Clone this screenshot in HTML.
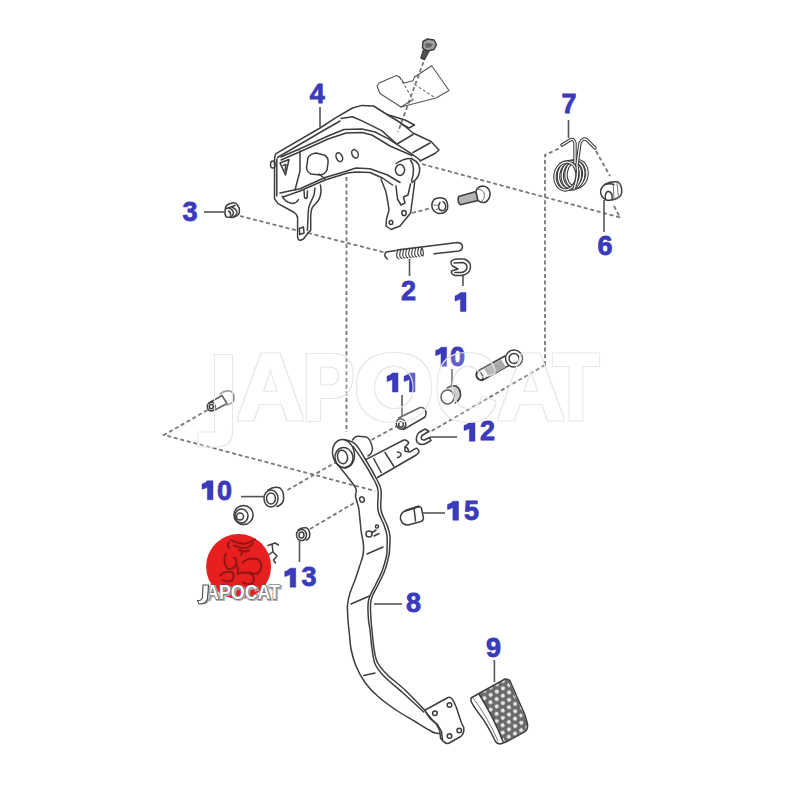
<!DOCTYPE html>
<html><head><meta charset="utf-8">
<style>
html,body{margin:0;padding:0;background:#fff;width:800px;height:800px;overflow:hidden}
svg{display:block}
.l{fill:none;stroke:#3d3d3d;stroke-width:1.5;stroke-linejoin:round;stroke-linecap:round}
.lf{fill:#fff;stroke:#3d3d3d;stroke-width:1.5;stroke-linejoin:round;stroke-linecap:round}
.t{fill:none;stroke:#666;stroke-width:0.9}
.d{fill:none;stroke:#777;stroke-width:1.8;stroke-dasharray:4 2.7}
.n{font-family:"Liberation Sans",sans-serif;font-weight:bold;font-size:27px;fill:#3a3abb;stroke:#3a3abb;stroke-width:0.8}
.ld{stroke:#555;stroke-width:1.6;fill:none}
.tw{fill:none;stroke:#3a3a3a;stroke-width:3.4;stroke-linecap:round;stroke-linejoin:round}
.tw2{fill:none;stroke:#fff;stroke-width:1.3;stroke-linecap:round;stroke-linejoin:round}
</style></head><body>
<svg width="800" height="800" viewBox="0 0 800 800">
<rect width="800" height="800" fill="#fff"/>
<!-- dashed -->
<g class="d">
<path d="M423.5 62 L398 132"/>
<path d="M240 216 L297 230.5"/>
<path d="M308 233 L385 252.5"/>
<path d="M346.5 177 L346.5 432"/>
<path d="M422 164 L620 217.5"/>
<path d="M412 213 L431 208"/>
<path d="M545 365 L545 155 L560 148"/>
<path d="M596 151 L610 176"/>
<path d="M614 206 L620 217.5"/>
<path d="M207.5 410 L164 435 L375 491"/>
<path d="M545 365 L430 432"/>
<path d="M371.5 440 L397 426"/>
<path d="M287.5 490 L340 460"/>
<path d="M310 529 L357.5 501"/>
</g>
<g class="d" style="stroke-width:1.1;stroke-dasharray:3 2">
<path d="M399.5 77 L413 99.5"/>
<path d="M414.5 84.5 L435.5 98"/>
</g>

<!-- bracket -->
<g class="l">
<!-- top flap pieces -->
<g style="stroke-width:1.1;stroke:#555">
<path d="M399.5 77 L396.5 75.5 L379 83 L377 86 L380 93.5 L401 107 L413 99.5"/>
<path d="M404 83 L413 80.7 L414.5 77 L431.7 65.7 L449 90.5 L436 98 L401 107"/>
<path d="M404 83 L399.5 77"/>
</g>
<!-- bolt top -->
<path d="M423 41.5 L427.5 39 L434 40 L436.5 44.5 L434 49.5 L427 51 L422.5 48 Z" fill="#a0a0a0"/>
<path d="M425 43.5 Q429 42 433 44.5 Q431 48 426 48 Z" fill="#666" stroke="none"/>
<path d="M423.5 50 L421 58 L424.5 59.5 L429 51 Z" fill="#555"/>
<!-- bracket top surface -->
<path d="M274.6 157 L276 153.6 L320 128 L336 117.6 L352.5 108 L362 105.4 L373.6 106 L387 114.5 L401 123 L413 133 L431 141.5 L439 150 L435 153.5 L420 161"/>
<path d="M277.5 157.5 L320 132.5 L340 121"/>
<path d="M387 114.5 L405 120 L414.5 125 L409 128 L400.5 123.5"/>
<path d="M397 144 L413 134.5"/>
<path d="M413 152.5 L430 143"/>
<path d="M281 157 L300.6 148.5 L328 136 L344 129.5 L362 129 L375 132 L388 138.7 L411 153.4 L420 160"/>
<path d="M341 118.4 L352.5 116.8 L362 120.9 L381.7 130.6 L396.4 143.6"/>
<path d="M281 160 L300.6 151.5 L328 139 L346 133 L362 132.5 L372 135 L390 146 L412 155.5"/>
<path d="M300 151 L300 171 L295 190"/>
<!-- left flange -->
<path d="M274.6 157 L274.5 198.7 L278 203.6 L294.4 212.5 Q297.6 215 297.6 218 L297.6 237 Q298 240.5 300.5 240.2 L303.5 239 L308.2 232.8"/>
<path d="M276.8 159 L276.8 196"/>
<path d="M308.2 232.8 L310.7 230.4 L310.7 216.6 Q311 210 312.3 207.6 L318 201 Q322.5 194 320.4 184.9"/>
<path d="M307.4 230.4 L308.2 212.5 Q308.5 207 309.8 204.4 L314 195 L315 188"/>
<path d="M299.3 228.5 L303.5 227 L304 233 L299.8 234.5 Z"/>
<path d="M304 190.6 L304.5 197.5 Q306 199.5 307.2 197.5 L307.4 191"/>
<!-- lower fold of side face -->
<path d="M280 193 L300 188.75 L325 177.5 L343.75 172 L356 168 L370 168.75 L387.5 175 L400 182.5"/>
<path d="M283 197 L300 191 L325 180 L347.5 173 L356 172 L370 172.5 L382.5 178 L392.5 185"/>
<path d="M282.2 196.3 Q285 202 292.8 203.6 Q296.5 203 298.5 199.5"/>

<path d="M319 174 L325 179"/>
<path d="M308 157.5 Q310 154 316 153 L324 155 Q329 157.5 328 163 L327 170 Q325 174.5 320 175 L311 174 Q307 172 306.5 168 Z"/>
<ellipse cx="339.3" cy="157.2" rx="3" ry="4.6" transform="rotate(-25 339.3 157.2)"/>
<ellipse cx="355" cy="153.8" rx="3" ry="4.4" transform="rotate(-25 355 153.8)"/>
<path d="M280 163 L289 159.5 L285.5 175 Z"/>
<path d="M283 165.5 L286 164.5 L285 171"/>
<ellipse cx="272.8" cy="164.5" rx="2.3" ry="3.6"/>
<!-- right end boss -->
<ellipse cx="400" cy="170" rx="4.6" ry="5.4"/>
<path d="M396 163.5 Q404 158 412 158.5"/>
<path d="M412 159 Q421 163 419.5 172 Q418 179 412 182.5"/>
<path d="M410.5 160 Q416 168 411.5 181"/>
<!-- right leg -->
<path d="M381 179 L386 192 L388 203 L389 210 L386.5 219 L386 226 L391 229.5 L400 226 L410.6 213 L413 195 L414.7 182"/>
<path d="M396 186 L397.5 199 L401 205 L405 203 L403.5 197 L408 195 L410.5 184"/>
<ellipse cx="391" cy="222.6" rx="1.8" ry="2"/>
<ellipse cx="404" cy="213" rx="2.2" ry="2.6"/>
</g>

<!-- small -->
<g class="l">
<!-- nut & bolt near bracket -->
<path d="M434 199.5 Q439 196.5 445 199 Q448.5 203 447.5 209 Q444.5 214 438.5 213.5 Q432 211.5 431.8 205.5 Q432 201.5 434 199.5 Z"/>
<path d="M443 201.5 Q447 204.5 445 209.5 Q441.5 212 439 209 Q438 205 440 202.5"/>
<path d="M434 205 L438.5 205.5 M436 209.5 L439.5 208.5" class="t"/>
<path d="M458.5 196.5 L476 191.5 L478 200.5 L460.5 204.8 Q457 202 458.5 196.5 Z" fill="#b4b4b4"/>
<path d="M476 191.5 Q477 187 482 186 Q488.5 186 490 192.5 Q490.5 200 484.5 202.5 Q479 203 477.5 199 Z" fill="#fff"/>
<path d="M478 189.5 Q483 189 484.5 194 Q485 199 481.5 202" class="t"/>
<!-- part 3 clip -->
<path d="M225.5 207.5 Q226 205 229 204 L233 202.8 Q235.5 202.5 237 204.5 L239.2 208 Q240 212 238.5 214.5 Q236 217 232.5 217.5 L226.5 217 Q224.5 215 225 211 Z"/>
<path d="M226.5 208.5 L235 205.5"/>
<path d="M229 208 Q233 209.5 233.5 213 Q233 216 230.5 216.5"/>
<path d="M232.5 207.5 Q236.5 209 237 212.5 Q236.5 215.5 233.5 216.5"/>
<path d="M228.5 211 Q231 212 230.5 215"/>
<!-- part 6 bushing -->
<path d="M600.7 193.4 Q600 187.5 606 183.7 Q611 181.2 618.2 182 Q622 185 621.7 192.5 Q621.5 197 614.2 199.5 L608.1 200.4 Q603 199.5 600.7 193.4 Z"/>
<path d="M605.5 199.5 Q604.5 192.5 608 191.2 Q611 191.5 612 195 L612.3 199.8"/>
<path d="M613.2 184.2 L614 199 M617 183.2 L618.5 197.5" class="t"/>
<path d="M605 184.5 Q610 183 614 184.5"/>
<!-- part 2 spring -->
<path d="M387.5 259 Q383 256 386 252 L396 250.6"/>
<path d="M397.5 250 L457.5 242.5 Q462.5 243 462.5 247 Q462 250.5 459 251 L434 253.75"/>
<g style="stroke-width:1.1">
<path d="M398 249.5 Q395 258 399 259"/><path d="M401 249 Q398 257.5 402 258.5"/><path d="M404 248.7 Q401 257.5 405 258.2"/><path d="M407 248.3 Q404 257 408 258"/><path d="M410 248 Q407 256.5 411 257.6"/><path d="M413 247.6 Q410 256 414 257.2"/><path d="M416 247.3 Q413 256 417 257"/><path d="M419 247 Q416 255.5 420 256.5"/><path d="M422 246.7 Q419 255 423 256 Q424 252 422 248"/>
</g>
<!-- part 1 clip -->
<path d="M451 262 Q452 259 458 259 L464 259 Q470.5 261 470.5 267 Q470 274 462 275.5 L455 275.5 Q450.5 274 451.5 271 L458 269 L452.5 266 Q450.5 264.5 451 262 Z"/>
<path d="M454 263 L463 262.5 Q467.5 264 467 268 Q466 272 461 272.5 L455 272.5"/>
<!-- upper bolt 10 -->
<path d="M477 371.5 L505 356 L510 365 L482 380.5 Q475 378.5 477 371.5 Z" fill="#fff"/>
<path d="M484 369 L501 359.5 L506 367 L489 377 Z" fill="#a8a8a8" stroke="none"/>
<circle cx="514" cy="358.5" r="8.5" fill="#fff"/>
<circle cx="514" cy="358.5" r="5"/>
<ellipse cx="479.5" cy="376" rx="3" ry="4.3" transform="rotate(-30 479.5 376)"/>
<!-- bushing 10 upper -->
<path d="M447 388 Q451 385 456 386 Q461 389 460.5 396 Q459 401 455 403" fill="#ccc"/>
<ellipse cx="447.5" cy="397" rx="6.5" ry="7" fill="#fff"/>
<!-- part 11 pin -->
<path d="M398.75 418 L420 407.5 Q425 407 426 412 Q426 415.5 425 417 L403.75 429.4"/>
<ellipse cx="401" cy="424" rx="4.7" ry="5.3" transform="rotate(-20 401 424)"/>
<ellipse cx="401" cy="424.5" rx="2.3" ry="2.8"/>
<!-- part 12 clip -->
<path d="M425 429 L419 432.5 Q415 437 417 442 Q420.5 446 426 443.5 L431 440.5 L429.5 437.5 L424.5 440 Q421.5 440.5 421 437.5 Q422 435 426 433 L429 431.5 Z"/>
<!-- left small bolt -->
<path d="M209 403 L222 395.5 L227 403.5 L214 410.5"/>
<ellipse cx="211.3" cy="406.6" rx="4" ry="4.3"/>
<ellipse cx="211.3" cy="406.6" rx="2" ry="2.2"/>
<path d="M220 394 Q226 389 232 392 Q235 396 233.5 401 Q230 405 225.5 405" style="stroke:#888"/>
<!-- lower bushing 10 -->
<path d="M268 490 Q274 486 280 488 Q284.5 492 283.5 500 Q282 505 277 506.5"/>
<ellipse cx="271" cy="498.5" rx="7" ry="8.5" fill="#fff"/>
<ellipse cx="271" cy="498.5" rx="4.5" ry="5.5"/>
<!-- nut -->
<circle cx="243.5" cy="515" r="9.6"/>
<ellipse cx="241.5" cy="516" rx="6.5" ry="7"/>
<circle cx="240" cy="516.5" r="3.5"/>
<!-- part 13 -->
<path d="M298 530 Q302 527 307 528 Q310.5 531 309.5 537 Q308.5 539.5 306 540"/>
<ellipse cx="301.5" cy="535" rx="5" ry="5.5" fill="#fff"/>
<ellipse cx="301.5" cy="535" rx="2.5" ry="3"/>
<!-- small clip near logo -->
<path d="M268 545.5 L275 543 L278.5 545 M272 544 L273 552 L277 556 L273.5 560 L275.5 563 M272.5 552 L268.5 555" style="stroke-width:1.5"/>
<!-- part 15 -->
<path d="M405 511 L418.5 506.5 Q421 506.5 421.5 508.5 L423.5 518.5 Q423.5 520.5 421 521.5 L408 525 Q402 525 400.5 519 Q400 513 405 511 Z" fill="#fff"/>
<path d="M414 508 L415.5 521"/>
<path d="M406 510.5 L418.5 506.5" style="stroke-width:2.2"/>
</g>

<!-- spring7 -->
<g>
<g class="tw">
<ellipse cx="576.5" cy="174" rx="10.5" ry="13.5" transform="rotate(8 576.5 174)"/>
</g><g class="tw2"><ellipse cx="576.5" cy="174" rx="10.5" ry="13.5" transform="rotate(8 576.5 174)"/></g>
<g class="tw"><ellipse cx="573" cy="174.7" rx="10.7" ry="13.8" transform="rotate(8 573 174.7)"/></g>
<g class="tw2"><ellipse cx="573" cy="174.7" rx="10.7" ry="13.8" transform="rotate(8 573 174.7)"/></g>
<g class="tw"><ellipse cx="569.5" cy="175.4" rx="10.9" ry="14" transform="rotate(8 569.5 175.4)"/></g>
<g class="tw2"><ellipse cx="569.5" cy="175.4" rx="10.9" ry="14" transform="rotate(8 569.5 175.4)"/></g>
<g class="tw"><ellipse cx="566" cy="176" rx="11" ry="14" transform="rotate(8 566 176)"/></g>
<g class="tw2"><ellipse cx="566" cy="176" rx="11" ry="14" transform="rotate(8 566 176)"/></g>
<g class="tw">
<path d="M575 163 L575 143 Q574 138 570 140 L562 145"/>
<path d="M574 189 Q579 176 577 165 L580 143 Q583 137 587 140 L595 148"/>
</g>
<g class="tw2">
<path d="M575 163 L575 143 Q574 138 570 140 L562 145"/>
<path d="M574 189 Q579 176 577 165 L580 143 Q583 137 587 140 L595 148"/>
</g>
</g>

<!-- pedal -->
<defs>
<pattern id="dots" patternUnits="userSpaceOnUse" width="7" height="13" patternTransform="rotate(-28 500 710)">
<rect width="7" height="13" fill="#6a6a6a"/>
<ellipse cx="1.75" cy="3.25" rx="2.1" ry="1.9" fill="#e8e8e8"/>
<ellipse cx="5.25" cy="9.75" rx="2.1" ry="1.9" fill="#e8e8e8"/>
</pattern>
</defs>
<g class="l">
<!-- pedal arm -->
<path d="M338.00 465.00 C340.00 467.50 347.00 476.00 350.00 480.00 C353.00 484.00 355.08 486.33 356.00 489.00 C356.92 491.67 355.33 493.83 355.50 496.00 C355.67 498.17 356.42 499.67 357.00 502.00 C357.58 504.33 358.33 505.33 359.00 510.00 C359.67 514.67 360.25 524.17 361.00 530.00 C361.75 535.83 363.17 540.83 363.50 545.00 C363.83 549.17 363.58 551.67 363.00 555.00 C362.42 558.33 361.33 560.83 360.00 565.00 C358.67 569.17 356.67 575.33 355.00 580.00 C353.33 584.67 351.25 588.83 350.00 593.00 C348.75 597.17 347.83 600.50 347.50 605.00 C347.17 609.50 347.67 615.00 348.00 620.00 C348.33 625.00 349.00 630.21 349.50 635.00 C350.00 639.79 349.92 643.58 351.00 648.75 C352.08 653.92 353.67 660.38 356.00 666.00 C358.33 671.62 361.42 677.50 365.00 682.50 C368.58 687.50 372.33 691.42 377.50 696.00 C382.67 700.58 389.75 705.75 396.00 710.00 C402.25 714.25 409.33 718.08 415.00 721.50 C420.67 724.92 426.67 728.58 430.00 730.50 C433.33 732.42 433.33 732.50 435.00 733.00 C436.67 733.50 439.17 733.42 440.00 733.50"/>
<path d="M343.75 439.40 C345.62 440.12 351.46 440.52 355.00 443.75 C358.54 446.98 361.50 453.04 365.00 458.75 C368.50 464.46 373.33 472.79 376.00 478.00 C378.67 483.21 380.17 484.67 381.00 490.00 C381.83 495.33 380.00 504.17 381.00 510.00 C382.00 515.83 385.50 520.67 387.00 525.00 C388.50 529.33 389.58 531.83 390.00 536.00 C390.42 540.17 389.67 546.83 389.50 550.00 C389.33 553.17 389.75 551.67 389.00 555.00 C388.25 558.33 386.83 565.00 385.00 570.00 C383.17 575.00 380.17 580.50 378.00 585.00 C375.83 589.50 373.25 593.67 372.00 597.00 C370.75 600.33 370.67 601.17 370.50 605.00 C370.33 608.83 370.75 615.83 371.00 620.00 C371.25 624.17 371.50 625.21 372.00 630.00 C372.50 634.79 373.08 643.33 374.00 648.75 C374.92 654.17 375.25 658.12 377.50 662.50 C379.75 666.88 382.92 670.42 387.50 675.00 C392.08 679.58 398.75 684.08 405.00 690.00 C411.25 695.92 421.67 707.08 425.00 710.50"/>
<path d="M353.00 446.50 C354.67 448.92 359.58 455.58 363.00 461.00 C366.42 466.42 371.00 474.17 373.50 479.00 C376.00 483.83 377.25 484.83 378.00 490.00 C378.75 495.17 377.00 504.17 378.00 510.00 C379.00 515.83 382.50 520.67 384.00 525.00 C385.50 529.33 386.50 531.83 387.00 536.00 C387.50 540.17 387.08 546.67 387.00 550.00 C386.92 553.33 387.25 552.67 386.50 556.00 C385.75 559.33 384.33 565.17 382.50 570.00 C380.67 574.83 377.67 580.50 375.50 585.00 C373.33 589.50 370.75 593.67 369.50 597.00 C368.25 600.33 368.17 601.17 368.00 605.00 C367.83 608.83 368.17 615.83 368.50 620.00 C368.83 624.17 369.42 625.21 370.00 630.00 C370.58 634.79 371.17 643.12 372.00 648.75 C372.83 654.38 373.04 659.21 375.00 663.75 C376.96 668.29 379.17 671.21 383.75 676.00 C388.33 680.79 395.83 686.50 402.50 692.50 C409.17 698.50 420.21 708.75 423.75 712.00"/>
<!-- boss -->
<path d="M352.5 440 Q355 436 358.75 436.25 L366.25 436.9 Q371 439 372.5 448.75 Q372 454 368 456"/>
<ellipse cx="343.5" cy="453.7" rx="10.8" ry="14.3" transform="rotate(-12 343.5 453.7)" fill="#fff"/>
<ellipse cx="344" cy="457.5" rx="9" ry="10" transform="rotate(-12 344 457.5)"/>
<ellipse cx="342.5" cy="457" rx="5" ry="6.8" transform="rotate(-12 342.5 457)"/>
<!-- lever -->
<path d="M366.25 459.4 L403.75 440 Q407.5 439.5 408.75 443 L405 446.9 L405 451.25 L410 451.9 L416.25 448.1 Q419.5 449.5 418.75 452.5 L416.25 455 L377.5 477.5"/>
<path d="M373.75 458.75 L381.25 472.5"/>
<path d="M385 452.5 L393.75 466.25"/>
<path d="M397.5 452 Q401.5 452.5 401 455 Q400 457.5 397.5 457.5"/>
<path d="M405 447 Q407.5 447 408.5 450.5"/>
<!-- holes/marks on arm -->
<ellipse cx="362" cy="499.5" rx="2.3" ry="2.8" transform="rotate(-20 362 499.5)"/>
<circle cx="369" cy="534" r="3"/>
<path d="M372 532.5 L376 530 M374 536 L379 533.5"/>
<circle cx="377" cy="526.5" r="1.6"/>
<path d="M367 554 L383 547"/>
<path d="M351 604 L369.5 596"/>
<path d="M363.75 675.6 L375 673"/>
<!-- plate -->
<path d="M424.75 710.25 L448 697.5 Q451 696.5 454 702 L456.25 707.25 L461.5 723 L463.75 727.5 Q464.5 733.5 460.75 736.5 L448.75 743.25 Q445 744.5 440.5 738 L439.75 730.5 L436 723.75 L430 718.5 Z" fill="#fff"/>
<path d="M426.5 713 L432 719.5 L437.5 724.5 L441.5 731.5 L442.5 739.5"/>
<circle cx="434.9" cy="713.25" r="2.3"/>
<circle cx="449.5" cy="705" r="2.3"/>
<circle cx="449.5" cy="736" r="2.3"/>
<circle cx="459.25" cy="730.5" r="2.3"/>
</g>
<!-- pad 9 -->
<path d="M479 694 L505 679.5 Q508.5 679 509.5 681.5 L525 717 L527.5 724 Q527.5 729 524 731 L506 741.5 L503 741.5 Q494 718 479 694 Z" fill="url(#dots)"/>
<g class="l">
<path d="M471 698 L479 693.5 L505 679 Q508 678.5 510 681 L517 697 L525 715 L527.5 724 Q528 729.5 525 731.5 L506 742 L500 744 Q497 744 495.5 741.5 Q486 722 480 715 Q473 706 471 701 Z"/>
<path d="M479 694 Q494 718 503 741.5"/>
<path d="M473.5 698.5 Q487 716 498 741" class="t"/>
<path d="M508 680 L527 726" class="t"/>
</g>

<!-- logo -->
<g>
<circle cx="238.6" cy="566.5" r="32.5" fill="#e81f1f"/>
<g fill="none" stroke="#931616" stroke-width="2" stroke-linecap="round" stroke-linejoin="round">
<path d="M231 540 Q238 544 245 543.8 Q251 542 255 539.5"/>
<path d="M234 545.5 Q242 549 248 547.5 Q252 545.5 253 543"/>
<path d="M239 550 Q245 552.5 249 550.5"/>
<path d="M243 551 L241 555"/>
<path d="M226 553.8 Q222 561 227.5 568.8 Q233 570 236.5 564.5 Q237 559 233.8 557.5"/>
<path d="M242.5 562.5 Q250 556 259 560 Q264 566 258.5 573 Q254 575 250 572"/>
<path d="M220 575.5 Q225 570.5 232 572 Q235.5 576 232 580.5 Q227 582.5 222.5 580"/>
<path d="M237.5 574 Q245 571 252 574.5 Q256 579 252 583.5 Q247 585 243 582.5"/>
<path d="M237 566 Q239 570 237.5 574"/>
<path d="M229 548 Q227 545 229 542"/>
</g>
<g font-family="Liberation Sans, sans-serif" font-weight="bold">
<text x="207" y="600.4" font-size="19.5" textLength="74" lengthAdjust="spacingAndGlyphs" fill="#b0b0b0" stroke="#b0b0b0" stroke-width="2.2">APOCAT</text>
<text x="206" y="599.4" font-size="19.5" textLength="74" lengthAdjust="spacingAndGlyphs" fill="#fff" stroke="#4a4a4a" stroke-width="1.1" paint-order="stroke">APOCAT</text>
<path d="M204 603.5 Q208 603 209.5 598 L209.5 586" fill="none" stroke="#b0b0b0" stroke-width="1.8"/>
<path d="M203 585 L208.5 585 L207.5 599 Q206 604.5 199 604 L197.5 600.5 Q202 601 202.5 597 Z" fill="#fff" stroke="#4a4a4a" stroke-width="1.1"/>
</g>
</g>

<!-- labels -->
<g class="ld">
<path d="M320 107 V127"/>
<path d="M568.5 120 V138"/>
<path d="M204 212 H224"/>
<path d="M604 200 V232"/>
<path d="M409.5 259 V276"/>
<path d="M463 274 V286"/>
<path d="M452 369 V386"/>
<path d="M402 395 V417"/>
<path d="M430 437 H457"/>
<path d="M241 496.6 H264"/>
<path d="M422 513 H445"/>
<path d="M299.5 540 V562"/>
<path d="M374 604 H402"/>
<path d="M494.4 660 V682"/>
</g>
<g class="n">
<text x="309.75" y="102.75">4</text>
<text x="561.5" y="113">7</text>
<text x="182.5" y="220.6">3</text>
<text x="597.5" y="255">6</text>
<text x="401" y="300">2</text>
<text x="406" y="611.5">8</text>
<text x="486" y="657">9</text>
<text x="450" y="366">0</text>
<text x="480" y="440">2</text>
<text x="217" y="499.75">0</text>
<text x="464" y="520">5</text>
<text x="301.5" y="586">3</text>
</g>
<g fill="#3a3abb" stroke="#3a3abb" stroke-width="0.5" stroke-linejoin="round">
<path transform="translate(455 292.6)" d="M5.4 0 H11 V19 H5.4 V6.4 Q2.8 7.8 0 8.4 V3.3 Q3.4 2.2 5.4 0 Z"/>
<path transform="translate(435.6 347.2)" d="M5.4 0 H11 V19 H5.4 V6.4 Q2.8 7.8 0 8.4 V3.3 Q3.4 2.2 5.4 0 Z"/>
<path transform="translate(387 373)" d="M5.4 0 H11 V19 H5.4 V6.4 Q2.8 7.8 0 8.4 V3.3 Q3.4 2.2 5.4 0 Z"/>
<path transform="translate(404 373)" d="M5.4 0 H11 V19 H5.4 V6.4 Q2.8 7.8 0 8.4 V3.3 Q3.4 2.2 5.4 0 Z"/>
<path transform="translate(464 422.2)" d="M5.4 0 H11 V19 H5.4 V6.4 Q2.8 7.8 0 8.4 V3.3 Q3.4 2.2 5.4 0 Z"/>
<path transform="translate(202 480.8)" d="M5.4 0 H11 V19 H5.4 V6.4 Q2.8 7.8 0 8.4 V3.3 Q3.4 2.2 5.4 0 Z"/>
<path transform="translate(447.5 501.2)" d="M5.4 0 H11 V19 H5.4 V6.4 Q2.8 7.8 0 8.4 V3.3 Q3.4 2.2 5.4 0 Z"/>
<path transform="translate(284.75 568.2)" d="M5.4 0 H11 V19 H5.4 V6.4 Q2.8 7.8 0 8.4 V3.3 Q3.4 2.2 5.4 0 Z"/>
</g>

<!-- watermark -->
<defs>
<filter id="wmf" x="-5%" y="-20%" width="110%" height="140%" color-interpolation-filters="sRGB">
<feMorphology in="SourceAlpha" operator="dilate" radius="1.7" result="d1"/>
<feMorphology in="SourceAlpha" operator="dilate" radius="0.9" result="d0"/>
<feComposite in="d1" in2="d0" operator="out" result="ring"/>
<feFlood flood-color="#e6e6e6" result="rc"/>
<feComposite in="rc" in2="ring" operator="in" result="ringc"/>
<feFlood flood-color="#ffffff" flood-opacity="0.2" result="fc"/>
<feComposite in="fc" in2="d0" operator="in" result="fillc"/>
<feMerge><feMergeNode in="fillc"/><feMergeNode in="ringc"/></feMerge>
</filter>
</defs>
<g filter="url(#wmf)" font-family="Liberation Sans, sans-serif" font-weight="bold" font-size="94" text-anchor="middle" fill="#000">
<path d="M216 356 H231 V430 Q231 445.5 215 445.5 H199.5 V433.5 H216 Z"/>
<text x="0" y="420" transform="translate(270.5 0) scale(1.0 1)">A</text>
<text x="0" y="420" transform="translate(328.5 0) scale(0.82 1)">P</text>
<text x="0" y="420" transform="translate(394 0) scale(1.1 1)">O</text>
<text x="0" y="420" transform="translate(466 0) scale(0.91 1)">C</text>
<text x="0" y="420" transform="translate(531 0) scale(1.0 1)">A</text>
<text x="0" y="420" transform="translate(576 0) scale(0.8 1)">T</text>
</g>

</svg>
</body></html>
